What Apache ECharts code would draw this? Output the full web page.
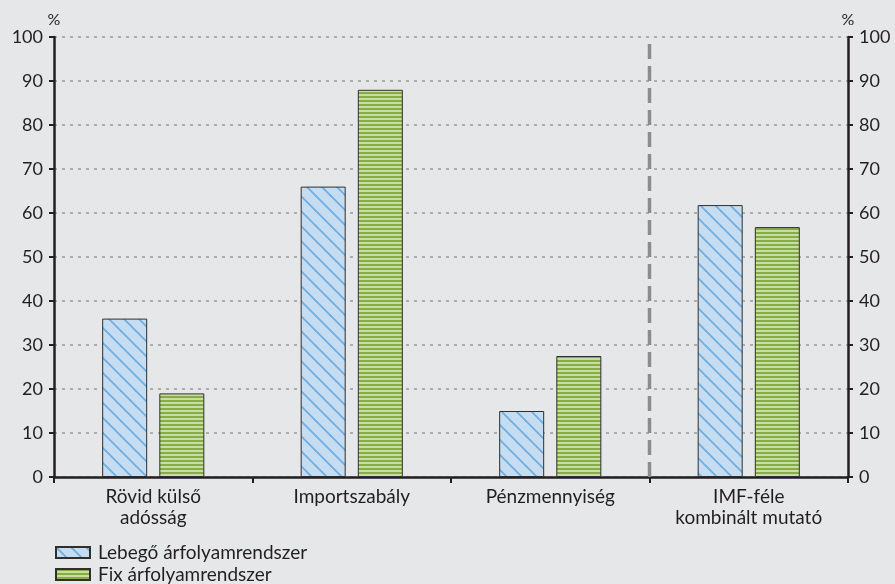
<!DOCTYPE html>
<html>
<head>
<meta charset="utf-8">
<script src="https://cdn.jsdelivr.net/npm/echarts@6/dist/echarts.min.js"></script>
<style>
  html, body { margin: 0; padding: 0; background: #e6e7e9; }
  #chart { width: 895px; height: 584px; }
</style>
</head>
<body>
<div id="chart"></div>
<script>
// Categories and values (%)
const categories = ['Rövid külső\nadósság', 'Importszabály', 'Pénzmennyiség', 'IMF-féle\nkombinált mutató'];
const floatingValues = [36, 66, 15, 61.8];
const fixedValues = [19, 88, 27.5, 56.8];
const seriesNames = ['Lebegő árfolyamrendszer', 'Fix árfolyamrendszer'];
const yTicks = { min: 0, max: 100, interval: 10 };
// The separator sits on the boundary after the third category
const separatorPos = 3;

// Diagonal hatch for the floating-rate bars
function hatchPattern() {
  const s = 15;
  const c = document.createElement('canvas');
  c.width = s; c.height = s;
  const g = c.getContext('2d');
  g.fillStyle = '#c6dcf1';
  g.fillRect(0, 0, s, s);
  g.strokeStyle = '#6eaee0';
  g.lineWidth = 1.8;
  for (const d of [-s, 0, s]) {
    g.beginPath();
    g.moveTo(d - 1, -1);
    g.lineTo(d + s + 1, s + 1);
    g.stroke();
  }
  return { image: c, repeat: 'repeat' };
}

// Horizontal stripes for the fixed-rate bars
function stripePattern() {
  const c = document.createElement('canvas');
  c.width = 8; c.height = 4;
  const g = c.getContext('2d');
  g.fillStyle = '#c9dca4';
  g.fillRect(0, 0, 8, 4);
  g.fillStyle = '#86ad45';
  g.fillRect(0, 0, 8, 2);
  return { image: c, repeat: 'repeat' };
}

const font = 'Lato, "Open Sans", sans-serif';
const ink = '#231f20';
const chart = echarts.init(document.getElementById('chart'), null, { renderer: 'canvas' });

const yAxisCommon = {
  type: 'value',
  min: yTicks.min, max: yTicks.max, interval: yTicks.interval,
  name: '%',
  nameLocation: 'end',
  nameGap: 9,
  nameTextStyle: { color: ink, fontSize: 16, fontFamily: font },
  axisLine: { show: true, lineStyle: { color: ink, width: 2.5 } },
  axisTick: { show: true, length: 5, lineStyle: { color: ink, width: 2 } },
  axisLabel: { color: ink, fontSize: 18, fontFamily: font, margin: 11 }
};

chart.setOption({
  backgroundColor: '#e6e7e9',
  animation: false,
  grid: { left: 54, right: 47, top: 37, bottom: 107, containLabel: false },
  legend: {
    orient: 'vertical',
    left: 55, top: 543,
    padding: 0,
    icon: 'rect',
    itemWidth: 34, itemHeight: 11,
    itemGap: 3,
    textStyle: { color: ink, fontSize: 19, fontFamily: font, padding: [0, 0, 0, 3] },
    data: seriesNames
  },
  xAxis: [
    {
      type: 'category',
      data: categories,
      axisLine: { lineStyle: { color: ink, width: 2.5 } },
      axisTick: { show: true, length: 6, lineStyle: { color: ink, width: 2 } },
      axisLabel: { color: ink, fontSize: 19, fontFamily: font, margin: 9, lineHeight: 21 },
      splitLine: { show: false }
    },
    { type: 'value', min: 0, max: categories.length, show: false }
  ],
  yAxis: [
    Object.assign({}, yAxisCommon, {
      position: 'left',
      splitLine: { show: true, lineStyle: { color: '#9a9a9a', type: [3, 5], width: 1.5 } }
    }),
    Object.assign({}, yAxisCommon, {
      position: 'right',
      splitLine: { show: false }
    })
  ],
  series: [
    {
      name: seriesNames[0],
      type: 'bar',
      data: floatingValues,
      barWidth: 45,
      barGap: '27%',
      itemStyle: { color: hatchPattern(), borderColor: '#2f2f2f', borderWidth: 1 }
    },
    {
      name: seriesNames[1],
      type: 'bar',
      data: fixedValues,
      barWidth: 45,
      itemStyle: { color: stripePattern(), borderColor: '#2f2f2f', borderWidth: 1 }
    },
    {
      name: 'separator',
      type: 'line',
      xAxisIndex: 1,
      yAxisIndex: 0,
      data: [[separatorPos, yTicks.min], [separatorPos, yTicks.max]],
      symbol: 'none',
      silent: true,
      lineStyle: { color: '#8c8c8c', width: 3.5, type: [15, 7] },
      z: 1
    }
  ]
});
</script>
</body>
</html>
